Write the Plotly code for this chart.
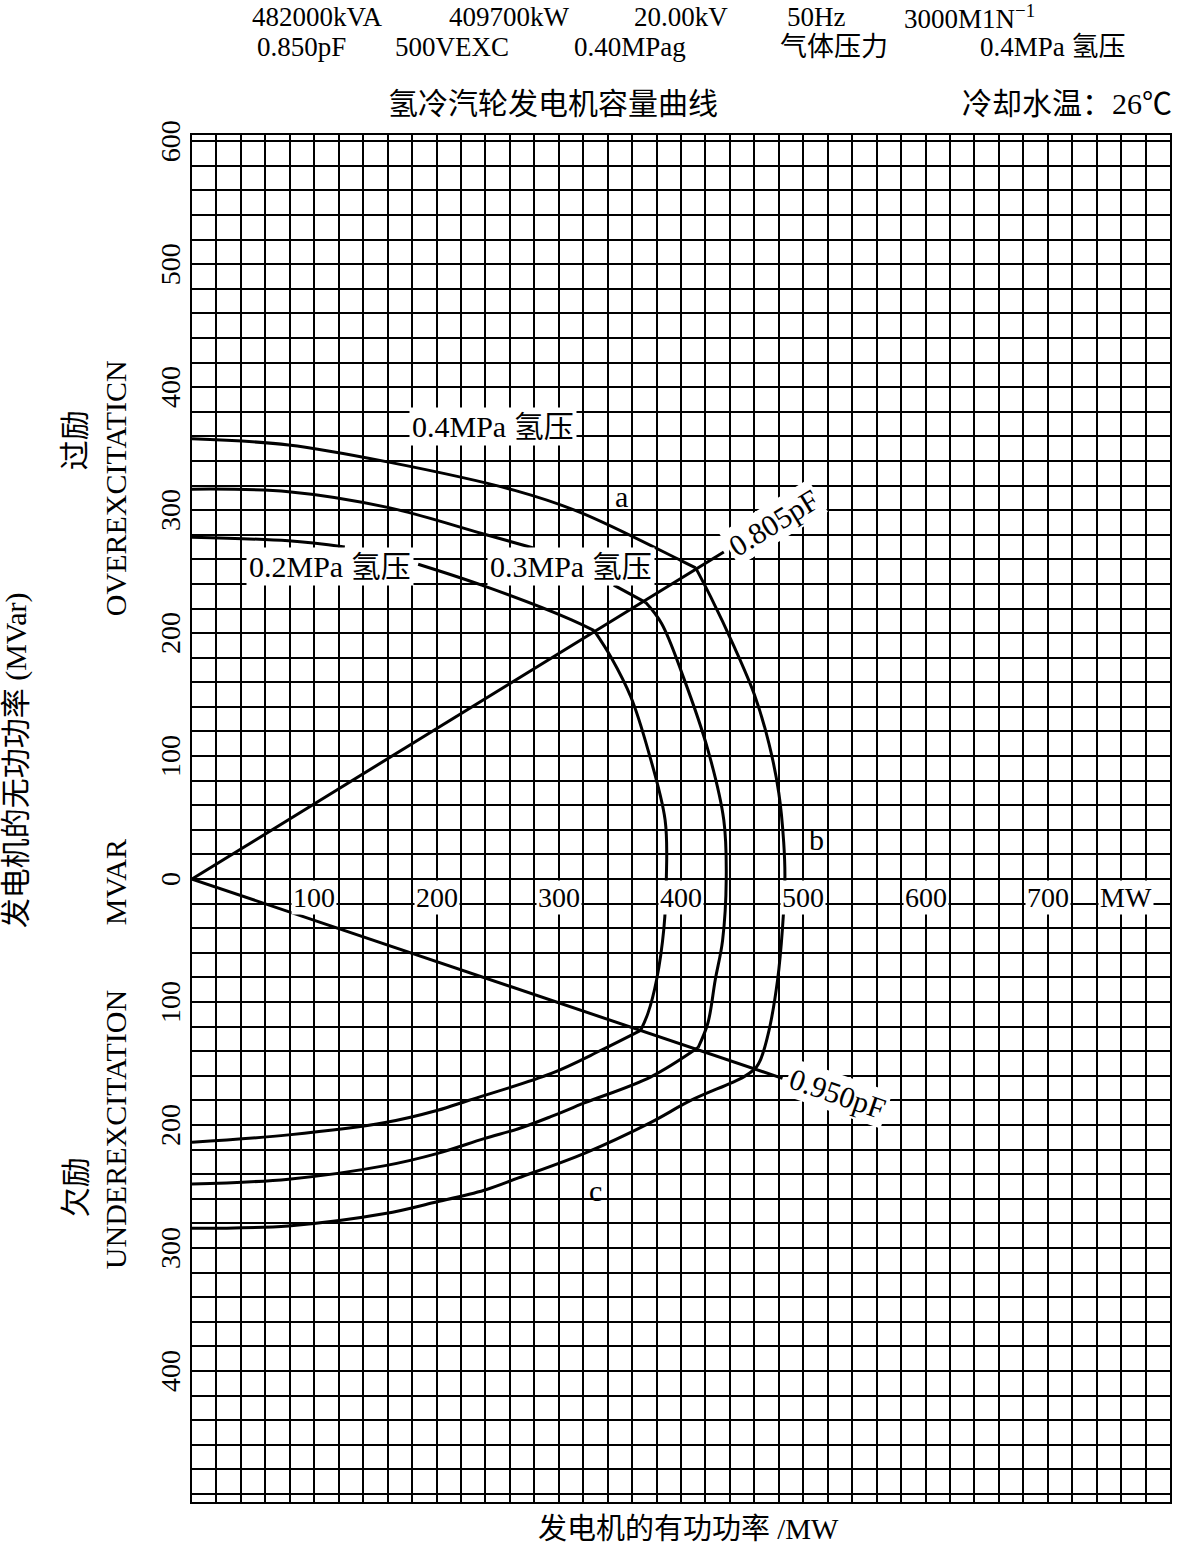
import plotly.graph_objects as go

# ---------------- data ----------------
# power-factor lines (MW, MVar)
pf805_x = [0, 435]
pf805_y = [0, 266]
pf950_x = [0, 483]
pf950_y = [0, -162]

# 0.4 MPa hydrogen pressure curve (segments a / b / c)
h04_a_x = [0, 79, 161, 264, 318, 400, 412]
h04_a_y = [358, 353, 339, 316, 298, 259, 253]
h04_b_x = [412, 424, 443, 460, 472, 480, 484, 485, 483, 479, 472, 465, 461]
h04_b_y = [253, 230, 190, 150, 110, 70, 30, 0, -40, -82, -123, -147, -154]
h04_c_x = [461, 451, 408, 375, 321, 267, 239, 198, 158, 79, 0]
h04_c_y = [-154, -161, -180, -198, -223, -243, -253, -263, -272, -282, -284]

# 0.3 MPa hydrogen pressure curve
h03_a_x = [0, 79, 161, 237, 280, None, 345, 371]
h03_a_y = [317, 315, 302, 281, 269, None, 239, 225]
h03_b_x = [371, 384, 402, 422, 435, 437, 434, 428, 422, 414]
h03_b_y = [225, 208, 164, 105, 48, 0, -50, -82, -117, -137]
h03_c_x = [414, 375, 321, 294, 267, 239, 201, 158, 79, 0]
h03_c_y = [-137, -161, -182, -193, -203, -211, -223, -233, -244, -248]

# 0.2 MPa hydrogen pressure curve
h02_a_x = [0, 79, 125, None, 185, 237, 310, 329]
h02_a_y = [278, 275, 270, None, 256, 239, 211, 202]
h02_b_x = [329, 343, 359, 373, 387, 388, 386, 380, 373, 367]
h02_b_y = [202, 180, 148, 105, 48, 0, -40, -82, -109, -123]
h02_c_x = [367, 335, 294, 226, 201, 158, 79, 0]
h02_c_y = [-123, -139, -158, -180, -188, -198, -208, -214]

# tick labels
x_tick_vals = [100, 200, 300, 400, 500, 600, 700]
x_tick_text = ["100", "200", "300", "400", "500", "600", "700"]
y_tick_vals = [600, 500, 400, 300, 200, 100, 0, -100, -200, -300, -400]
y_tick_text = ["600", "500", "400", "300", "200", "100", "0", "100", "200", "300", "400"]

header_row1 = ["482000kVA", "409700kW", "20.00kV", "50Hz", "3000M1N<sup>−1</sup>"]
header_row2 = ["0.850pF", "500VEXC", "0.40MPag", "气体压力", "0.4MPa 氢压"]

# ---------------- layout geometry ----------------
W, H = 1177, 1549
L, R, T, B = 192, 5, 135, 47
PW, PH = W - L - R, H - T - B
FONT = "Liberation Serif, Times New Roman, Noto Sans CJK SC, serif"


def px(xp):
    return (xp - L) / PW


def py(yp):
    return (H - B - yp) / PH


fig = go.Figure()

line_style = dict(color="black", width=3, shape="spline", smoothing=1.0)
for xs, ys in [
    (h04_a_x, h04_a_y), (h04_b_x, h04_b_y), (h04_c_x, h04_c_y),
    (h03_a_x, h03_a_y), (h03_b_x, h03_b_y), (h03_c_x, h03_c_y),
    (h02_a_x, h02_a_y), (h02_b_x, h02_b_y), (h02_c_x, h02_c_y),
]:
    fig.add_trace(go.Scatter(x=xs, y=ys, mode="lines", line=line_style,
                             connectgaps=False, hoverinfo="skip", showlegend=False))

for xs, ys in [(pf805_x, pf805_y), (pf950_x, pf950_y)]:
    fig.add_trace(go.Scatter(x=xs, y=ys, mode="lines",
                             line=dict(color="black", width=3),
                             hoverinfo="skip", showlegend=False))

ann = []


def F(s):
    return dict(family=FONT, size=s, color="black")


def add(**kw):
    kw.setdefault("showarrow", False)
    kw.setdefault("xanchor", "center")
    kw.setdefault("yanchor", "middle")
    ann.append(kw)


# x tick labels inside the plot, white boxes
for v, t in zip(x_tick_vals, x_tick_text):
    add(x=v, y=-15, xref="x", yref="y", text=t, font=F(28), bgcolor="white", borderpad=1)
add(x=764, y=-15, xref="x", yref="y", text="MW", font=F(28), bgcolor="white", borderpad=1)

# y tick labels (rotated)
for v, t in zip(y_tick_vals, y_tick_text):
    add(x=0, y=v, xref="paper", yref="y", text=t, xshift=-22, textangle=-90, font=F(28))

# curve labels
for x, y, t, bg, ang in [
    (246, 368, "0.4MPa 氢压", "white", 0),
    (113, 254, "0.2MPa 氢压", "white", 0),
    (310, 254, "0.3MPa 氢压", "white", 0),
    (351, 311, "a", "rgba(255,255,255,0)", 0),
    (511, 32, "b", "rgba(255,255,255,0)", 0),
    (330, -253, "c", "rgba(255,255,255,0)", 0),
    (476, 290, "0.805pF", "white", -31.5),
    (528, -174, "0.950pF", "white", 19),
]:
    add(x=x, y=y, xref="x", yref="y", text=t, font=F(30), bgcolor=bg,
        borderpad=2 if len(t) > 1 else 0, textangle=ang)

# header texts
row1_x = [318, 510, 682, 817, 971]
row2_x = [302, 453, 631, 835, 1055]
for xp, t in zip(row1_x, header_row1):
    add(x=px(xp), y=py(17), xref="paper", yref="paper", text=t, font=F(27))
for xp, t in zip(row2_x, header_row2):
    add(x=px(xp), y=py(47), xref="paper", yref="paper", text=t, font=F(27))
add(x=px(554), y=py(104), xref="paper", yref="paper",
    text="氢冷汽轮发电机容量曲线", font=F(30))
add(x=px(1176), y=py(104), xref="paper", yref="paper", xanchor="right",
    text="冷却水温：26℃", font=F(30))

# left side texts
for xp, yp, t in [
    (75, 440, "过励"),
    (115, 488, "OVEREXCITATICN"),
    (115, 882, "MVAR"),
    (115, 1130, "UNDEREXCITATION"),
    (75, 1187, "欠励"),
    (16, 760, "发电机的无功功率 (MVar)"),
]:
    add(x=px(xp), y=py(yp), xref="paper", yref="paper", text=t,
        textangle=-90, font=F(30))

add(x=px(690), y=py(1529), xref="paper", yref="paper",
    text="发电机的有功功率 /MW", font=F(29))

axis_common = dict(showgrid=True, gridcolor="black", gridwidth=1.8, dtick=20,
                   showticklabels=False, ticks="", zeroline=False,
                   showline=True, mirror=True, linecolor="black", linewidth=2)

fig.update_layout(
    width=W, height=H,
    margin=dict(l=L, r=R, t=T, b=B),
    paper_bgcolor="white", plot_bgcolor="white",
    xaxis=dict(range=[0, 800], tick0=0, **axis_common),
    yaxis=dict(range=[-506.5, 605], tick0=0, **axis_common),
    annotations=ann,
    showlegend=False,
)

fig.write_html("out.html", config={"displayModeBar": False},
               post_script="document.body.style.margin='0';")
